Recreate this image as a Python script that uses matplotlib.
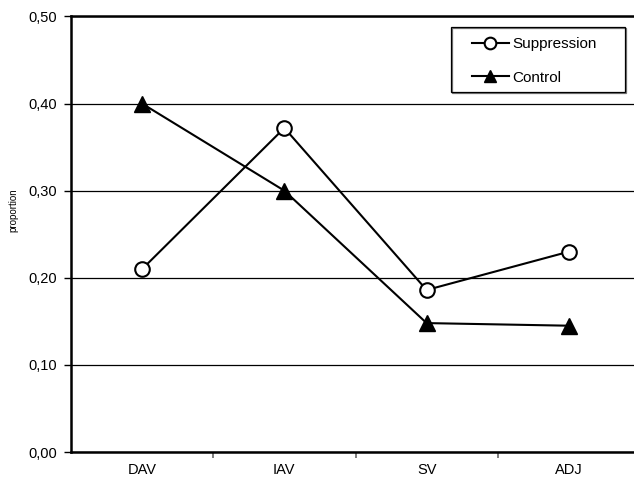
import matplotlib
matplotlib.use("Agg")
from matplotlib import pyplot as plt
from matplotlib.patches import Rectangle
from matplotlib.ticker import FuncFormatter

plt.rcParams['font.family'] = ['Liberation Sans', 'DejaVu Sans']

categories = ["DAV", "IAV", "SV", "ADJ"]
suppression = [0.210, 0.372, 0.186, 0.230]
control = [0.400, 0.300, 0.148, 0.145]
y_ticks = [0.0, 0.1, 0.2, 0.3, 0.4, 0.5]

W, H = 634, 480
fig = plt.figure(figsize=(W / 100, H / 100), dpi=100)
# plot area runs slightly past the right edge, like the original
ax = fig.add_axes([71 / W, (H - 452) / H, 569 / W, 435.5 / H])

x = list(range(len(categories)))
ax.plot(x, suppression, color="black", lw=1.5, marker="o", ms=10.5,
        mfc="white", mec="black", mew=1.5, label="Suppression", zorder=3)
ax.plot(x, control, color="black", lw=1.5, marker="^", ms=11,
        mfc="black", mec="black", label="Control", zorder=3)

ax.set_xlim(-0.5, len(categories) - 0.5)
ax.set_ylim(0, 0.5)
ax.set_yticks(y_ticks)
ax.yaxis.set_major_formatter(FuncFormatter(lambda v, p: f"{v:.2f}".replace(".", ",")))
ax.yaxis.grid(True, color="black", lw=0.9)
ax.set_axisbelow(True)

ax.set_xticks(x)
ax.set_xticklabels(categories)
ax.set_xticks([i + 0.5 for i in x[:-1]], minor=True)
ax.tick_params(axis="x", which="major", length=0, pad=8, labelsize=10.5)
ax.tick_params(axis="x", which="minor", length=4, width=1.2, color="#666666")
ax.tick_params(axis="y", length=5, width=1, pad=5, labelsize=10.5)

for side in ["left", "bottom", "top"]:
    ax.spines[side].set_linewidth(1.8)
ax.spines["right"].set_visible(False)

ax.set_ylabel("proportion", fontsize=7)
ax.yaxis.set_label_coords(-0.093, 0.555)

# legend frame drawn by hand so the inner padding matches
fig.patches.append(Rectangle((451 / W, (H - 92) / H), 174 / W, 65 / H,
                             transform=fig.transFigure, fill=False,
                             ec="black", lw=0.9))
fig.patches.append(Rectangle((452 / W, (H - 93) / H), 174 / W, 65 / H,
                             transform=fig.transFigure, fill=False,
                             ec="#777777", lw=0.9, zorder=0))
leg = ax.legend(loc="upper left", bbox_to_anchor=(466 / W, (H - 31) / H),
                bbox_transform=fig.transFigure, fontsize=11,
                handlelength=2.4, handletextpad=0.25, borderpad=0.4,
                labelspacing=1.27, borderaxespad=0, frameon=False,
                markerscale=0.8)

fig.savefig("out.png", dpi=100)
